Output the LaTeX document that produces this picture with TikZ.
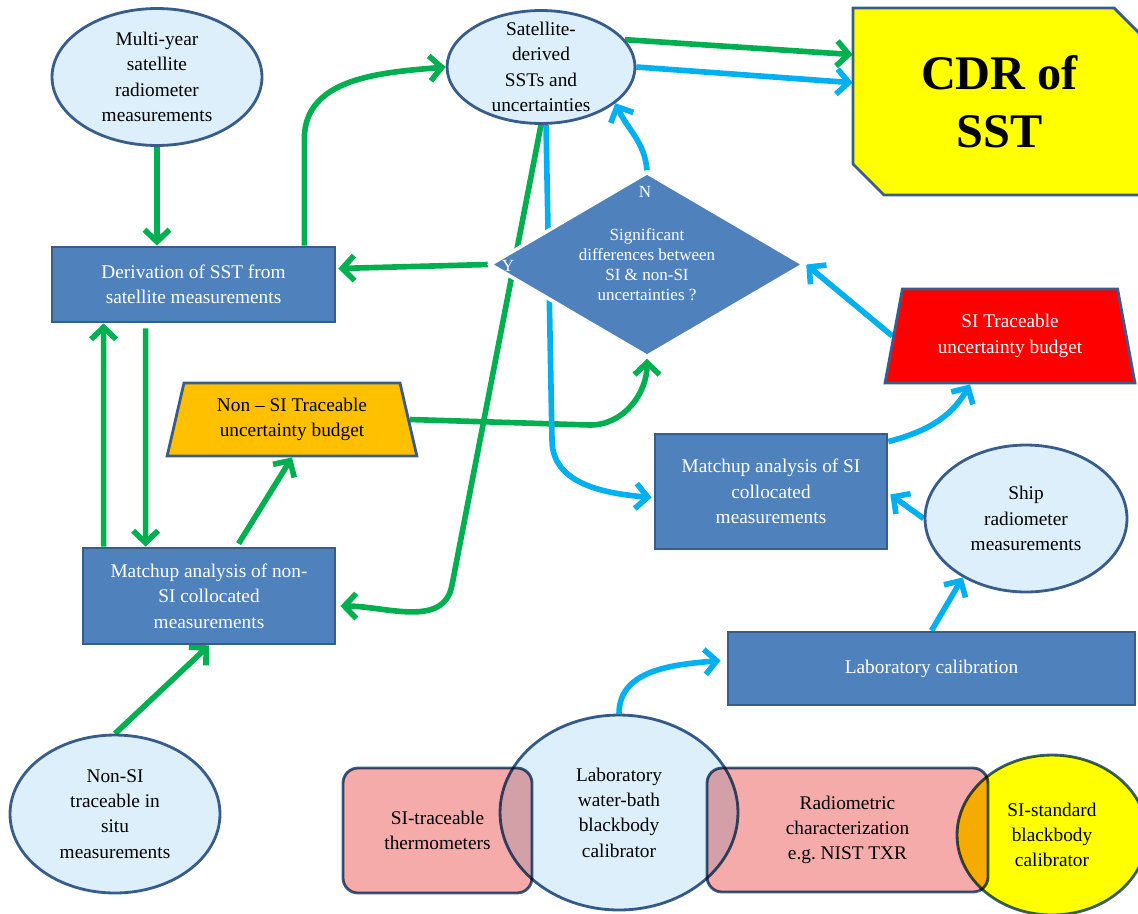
\documentclass[tikz,border=0pt]{standalone}
\usepackage{fontspec}
\setmainfont{Liberation Serif}
\usetikzlibrary{shapes.geometric,arrows.meta,calc,backgrounds}

\definecolor{boxblue}{HTML}{4F81BD}
\definecolor{edgeblue}{HTML}{385D8A}
\definecolor{paleblue}{HTML}{DCEFFA}
\definecolor{arrgreen}{HTML}{00B050}
\definecolor{arrblue}{HTML}{00B0F0}
\definecolor{budorange}{HTML}{FFC000}
\definecolor{budred}{HTML}{FF0000}
\definecolor{calyellow}{HTML}{FFFF00}
\definecolor{thermpink}{HTML}{F6ABAB}

\begin{document}
\begin{tikzpicture}
    [x=0.02cm, y=0.02cm,
    every node/.style={align=center, font=\fontsize{11}{14.4}\selectfont},
    bluebox/.style={rectangle, draw=edgeblue, line width=1.6pt, fill=boxblue, text=white},
    oval/.style={ellipse, draw=edgeblue, line width=1.6pt, fill=paleblue, inner sep=-4mm},
    budget/.style={trapezium, trapezium stretches=true, trapezium left angle=77,
        trapezium right angle=77, draw=edgeblue, line width=1.6pt},
    roundbox/.style={rectangle, rounded corners=3mm, draw=edgeblue, line width=1.6pt, fill=thermpink},
    decision/.style={diamond, fill=boxblue, draw=white, line width=2pt, text=white, inner sep=-5mm,
        font=\fontsize{9.7}{11.3}\selectfont},
    garrow/.style={draw=arrgreen, line width=3.2pt, -{Straight Barb[length=2.4mm,width=5mm]}},
    barrow/.style={garrow, draw=arrblue}]
    \useasboundingbox (0,0) rectangle (1138,-913);

    % satellite chain
    \node[oval, minimum width=4.2cm, minimum height=2.74cm] (multi) at (157,-77)
        {Multi-year\\satellite\\radiometer\\measurements};
    \node[oval, minimum width=3.76cm, minimum height=2.26cm] (sat) at (541,-67)
        {Satellite-\\derived\\SSTs and\\uncertainties};
    \filldraw[draw=edgeblue, fill=calyellow, line width=1.6pt]
        (853,-8) -- (1114,-8) -- (1146,-40) -- (1146,-195) -- (884,-195) -- (853,-164) -- cycle;
    \node[minimum width=5.86cm, minimum height=3.74cm, font=\bfseries\fontsize{27.5}{33}\selectfont]
        (cdr) at (999.5,-101.5) {CDR of\\SST};
    \node[bluebox, minimum width=5.66cm, minimum height=1.5cm] (deriv) at (193.5,-284.5)
        {Derivation of SST from\\satellite measurements};
    \node[decision, minimum width=6.3cm, minimum height=3.7cm] (dia) at (647,-264.5)
        {Significant\\differences between\\SI \& non-SI\\uncertainties ?};
    \node[text=white, font=\fontsize{9.7}{11.3}\selectfont] (nlab) at (645,-192) {N};
    \node[text=white, font=\fontsize{9.7}{11.3}\selectfont] (ylab) at (508,-266) {Y};

    % budgets and matchups
    \node[budget, fill=budorange, minimum width=5cm, minimum height=1.46cm] (nonsibud) at (292,-419.5)
        {Non – SI Traceable\\uncertainty budget};
    \node[budget, fill=budred, text=white, minimum width=5cm, minimum height=1.88cm] (sibud) at (1010,-336)
        {SI Traceable\\uncertainty budget};
    \node[bluebox, minimum width=5.04cm, minimum height=1.92cm] (matchnon) at (209,-596)
        {Matchup analysis of non-\\SI collocated\\measurements};
    \node[bluebox, minimum width=4.64cm, minimum height=2.3cm] (matchsi) at (771,-491.5)
        {Matchup analysis of SI\\collocated\\measurements};
    \node[oval, minimum width=4.04cm, minimum height=2.94cm] (ship) at (1026,-518.5)
        {Ship\\radiometer\\measurements};
    \node[bluebox, minimum width=8.14cm, minimum height=1.46cm] (labcal) at (931.5,-668.5)
        {Laboratory calibration};
    \node[oval, minimum width=4.2cm, minimum height=3.16cm] (insitu) at (115,-814)
        {Non-SI\\traceable in\\situ\\measurements};

    % calibration chain, overlapping shapes
    \begin{scope}[blend mode=multiply]
        \node[roundbox, minimum width=3.78cm, minimum height=2.5cm] (thermo) at (437.5,-830.5)
            {SI-traceable\\thermometers};
        \node[roundbox, minimum width=5.62cm, minimum height=2.48cm] (radio) at (847.5,-830)
            {Radiometric\\characterization\\e.g.\ NIST TXR};
        \node[oval, minimum width=4.76cm, minimum height=3.9cm] (bath) at (619,-812.5)
            {Laboratory\\water-bath\\blackbody\\calibrator};
        \node[oval, fill=calyellow, minimum width=3.8cm, minimum height=3.2cm] (sistd) at (1052,-835)
            {SI-standard\\blackbody\\calibrator};
    \end{scope}

    \begin{scope}[on background layer]
        % non-SI route
        \draw[garrow] (multi.south) -- (multi.south |- deriv.north);
        \draw[garrow] ($(deriv.north east)+(-32,0)$) -- ++(0,107) to[out=90,in=185] (sat.west);
        \draw[garrow] (dia.west) -- ($(deriv.east)+(2,16)$);
        \draw[garrow] ($(deriv.south west)+(95,-5)$) -- ($(matchnon.north west)+(64,0)$);
        \draw[garrow] ($(matchnon.north west)+(22,0)$) -- ($(deriv.south west)+(53,0)$);
        \draw[garrow] ($(matchnon.north west)+(157,3)$) -- (nonsibud.south);
        \draw[garrow] (insitu.north) -- (matchnon.south);
        \draw[garrow] (nonsibud.east) -- (590,-425) to[out=0,in=-90] (dia.south);
        \draw[garrow] (sat.south) -- (452,-585) to[out=-100,in=0] ($(matchnon.east)+(4,-10)$);
        \draw[garrow] (sat.18) -- ($(cdr.north west)!0.25!(cdr.south west)$);
        % SI route
        \draw[barrow] (sat.0) -- ($(cdr.north west)!0.4!(cdr.south west)$);
        \draw[barrow] ($(sat.south)+(5,0)$) -- (552,-440) to[out=-90,in=175] ($(matchsi.west)+(-2,-6)$);
        \draw[barrow] (dia.north) to[out=95,in=-65] (sat.-26);
        \draw[barrow] (sibud.west) -- (dia.east);
        \draw[barrow] ($(matchsi.north east)+(0,-9)$) to[out=15,in=-120] ($(sibud.south)+(-40,0)$);
        \draw[barrow] (ship.west) -- ($(matchsi.east)+(2,-3)$);
        \draw[barrow] (labcal.north) -- (ship.-137);
        \draw[barrow] (bath.north) to[out=90,in=185] ($(labcal.west)+(-6,8)$);
    \end{scope}
\end{tikzpicture}
\end{document}
